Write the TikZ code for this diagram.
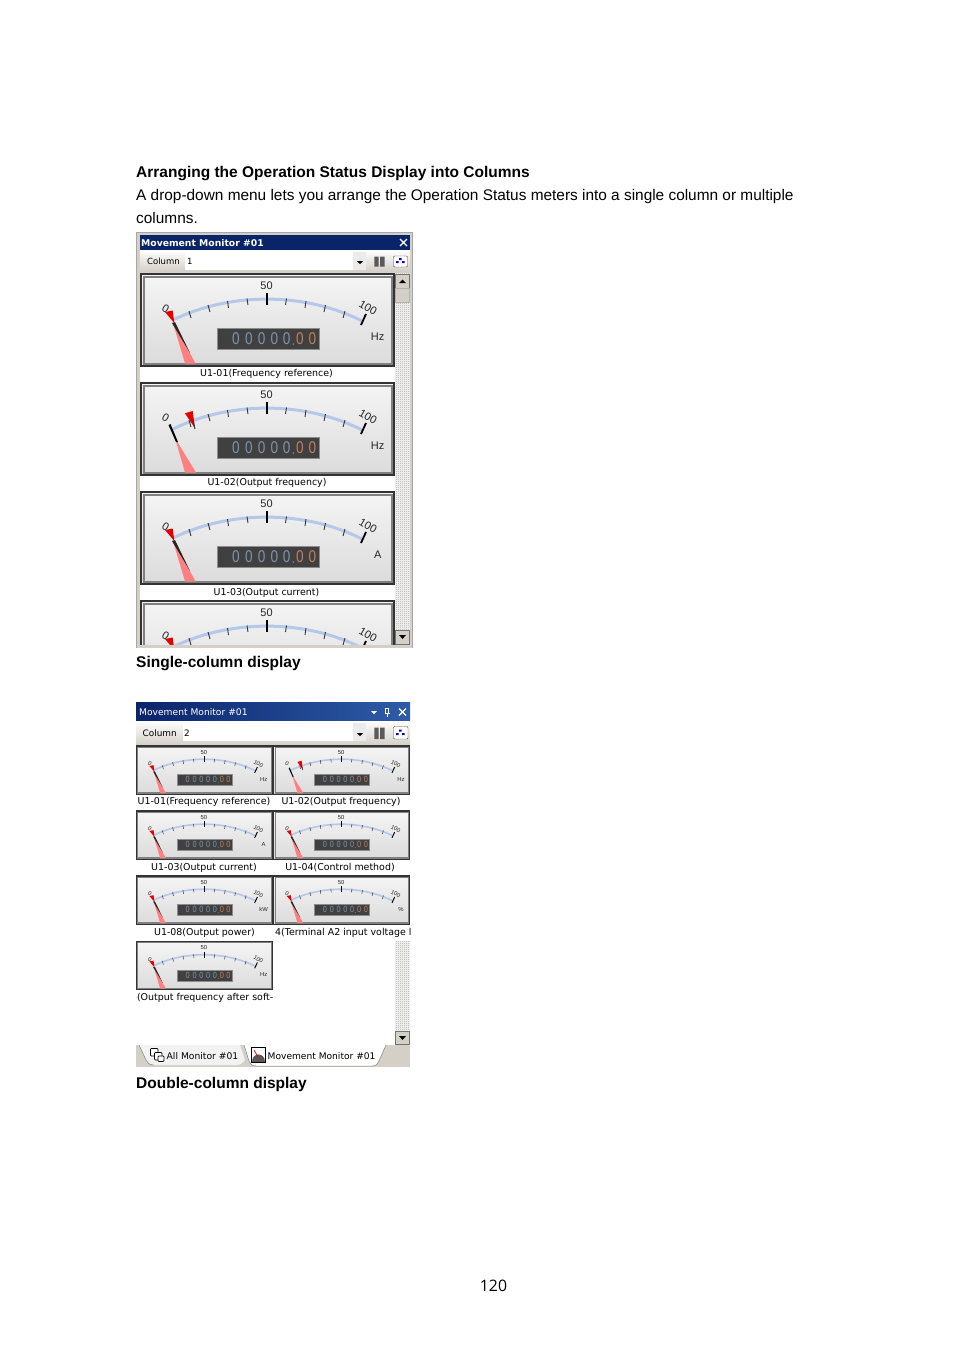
\documentclass[tikz,border=0pt]{standalone}
\usepackage{fontspec}
\setmainfont{Liberation Sans}
\newfontfamily\uifont{DejaVu Sans}
\newfontfamily\pagefont{Open Sans}
\usetikzlibrary{patterns}
\pgfdeclarepatternformonly{fineck}{\pgfqpoint{0pt}{0pt}}{\pgfqpoint{2pt}{2pt}}{\pgfqpoint{2pt}{2pt}}{%
  \pgfpathrectangle{\pgfqpoint{0pt}{0pt}}{\pgfqpoint{1pt}{1pt}}%
  \pgfpathrectangle{\pgfqpoint{1pt}{1pt}}{\pgfqpoint{1pt}{1pt}}%
  \pgfusepath{fill}}
\newif\ifgaugepartial
\definecolor{navy}{HTML}{0A246A}
\definecolor{barblue}{HTML}{2E5CA8}
\definecolor{winface}{HTML}{D4D0C8}
\definecolor{dither}{HTML}{F8F8F6}
\definecolor{arcblue}{HTML}{B4C8EA}
\definecolor{lcdbg}{HTML}{404040}
\definecolor{lcdblue}{HTML}{7F93AE}
\definecolor{lcdorange}{HTML}{C47F5C}
\definecolor{pinkneedle}{HTML}{FF8080}
\newcommand{\ditherbar}[4]{\fill[dither] (#1,#2) rectangle (#3,#4);
  \fill[pattern=fineck,pattern color=black!35] (#1,#2) rectangle (#3,#4);}
\tikzset{
  x=1pt,y=-1pt,
  headtext/.style={anchor=base west,inner sep=0pt,font=\fontsize{15.5}{18}\bfseries},
  bodytext/.style={anchor=base west,inner sep=0pt,font=\fontsize{15.4}{18}\selectfont},
  ui/.style={inner sep=0pt,font=\uifont\fontsize{9.45}{11}\selectfont},
  titletext/.style={anchor=west,inner sep=0pt,text=white},
  mnum/.style={inner sep=0pt,font=\fontsize{11}{13}\selectfont,text=black!85},
  lcddigit/.style={inner sep=0pt,font=\fontsize{17}{19}\selectfont},
  btn/.style={draw=black!55,fill=winface},
}
% #1 x, #2 y, #3 xscale, #4 yscale, #5 unit, #6 needle position (0 or 1)
\newcommand{\gauge}[6]{%
\begin{scope}[shift={(#1,#2)},xscale=#3,yscale=#4,transform shape]
  \path[top color=black!4,bottom color=black!14] (1,1) rectangle (254,93);
  \draw[black!50,line width=2pt*#3] (3.5,3.5) rectangle (251.5,90.5);
  \draw[black!80,line width=2.2pt*#3] (1,1) rectangle (254,93);
  \draw[arcblue,line width=3pt*#3] (33,47) .. controls (90,19) and (165,19) .. (222,48);
  \foreach \tx/\ty/\bx/\by in {49/38/51/45, 68/32/70/39, 87.5/28/88.5/35, 107/25.5/108/32, 146.5/25.5/145.5/32, 166/28/165/35, 185.5/32/184/39, 205/38/203/45}
    \draw[black!80,line width=.9pt*#3] (\tx,\ty) -- (\bx,\by);
  \draw[black,line width=1.3pt*#3] (127,20) -- (127,32);
  \draw[black,line width=1.8pt*#3] (226,41) -- (221,52);
  \node[mnum,rotate=-30] at (25.7,35.3) {0};
  \node[mnum] at (126.5,13) {50};
  \node[mnum,rotate=-30] at (228,35) {100};
  \ifgaugepartial\else
  \if\relax\detokenize{#5}\relax\else\node[mnum] at (237.7,64) {#5};\fi
  \fill[lcdbg] (77,55) rectangle (179,76);
  \draw[black!45,line width=.7pt*#3] (77,55) rectangle (179,76);
  \foreach \dx in {96,109,121.7,134.3,146.7}
    \node[lcddigit,text=lcdblue,xscale=.8] at (\dx,65.5) {0};
  \fill[lcdblue] (153.3,71) circle (.8);
  \foreach \dx in {160,172.3}
    \node[lcddigit,text=lcdorange,xscale=.8] at (\dx,65.5) {0};
  \fi
  \ifnum#6=0
    \fill[pinkneedle] (33,50) -- (45,90.5) -- (55.7,90.5) -- cycle;
    \fill[black!85] (32,50) -- (35,49) -- (50,80) -- cycle;
    \fill[red!90!black] (25,39) -- (32.7,37.5) -- (34.3,50) -- cycle;
  \else
    \fill[pinkneedle] (35,56) -- (45,90.5) -- (56,90.5) -- cycle;
    \fill[black] (28.5,43) -- (30.5,42) -- (38,60) -- (36,60) -- cycle;
    \fill[red!90!black] (45,31.3) -- (52.7,29) -- (55,46.3) -- cycle;
    \draw[black!80,line width=1pt*#3] (53,39) -- (55,47);
  \fi
\end{scope}}
\begin{document}
\begin{tikzpicture}
\useasboundingbox[fill=white] (0,0) rectangle (954,1350);
\node[headtext] (head) at (136,177) {Arranging the Operation Status Display into Columns};
\node[bodytext] (para1) at (136,200) {A drop-down menu lets you arrange the Operation Status meters into a single column or multiple};
\node[bodytext] (para2) at (136,223) {columns.};
% ---- first window
\fill[winface] (136.5,232) rectangle (412.5,647.5);
\draw[black!35,line width=.7pt] (136.5,232) rectangle (412.5,647.5);
\fill[navy] (140,235) rectangle (410,250);
\node[titletext,font=\uifont\bfseries\fontsize{9.25}{11}\selectfont] (t1) at (141,242.7) {Movement Monitor \#01};
\draw[white,line width=1.3pt] (400,239) -- (407,246) (407,239) -- (400,246);
\path[top color=white,bottom color=winface] (140,250) rectangle (410,271);
\fill[white] (185,252) rectangle (366,270);
\node[ui,anchor=west,font=\uifont\fontsize{8.5}{10}\selectfont] (c1) at (147,261.5) {Column};
\node[ui,anchor=west,font=\uifont\fontsize{8.5}{10}\selectfont] (v1) at (187,261.5) {1};
\fill[black!8] (353,252) rectangle (366,270);
\fill[black] (357,261) -- (363,261) -- (360,264) -- cycle;
\fill[black!65] (374.3,256.7) rectangle (378.7,266.7) (380,256.7) rectangle (384.7,266.7);
\draw[black!70,fill=white,rounded corners=1pt] (393.5,256) rectangle (407.5,267);
\fill[blue!80!black] (396,261) rectangle (398.5,263) (399,258) rectangle (401.5,260) (402,261) rectangle (404.5,263);
% scrollbar
\ditherbar{395}{273}{410}{645}
\path[btn] (395.5,274.5) rectangle (409.5,288);
\fill[black] (399,283) -- (406,283) -- (402.5,279.5) -- cycle;
\path[btn,draw=black!30] (395.5,288.5) rectangle (409.5,302.5);
\path[btn] (395.5,630.5) rectangle (409.5,644.5);
\fill[black] (399,635) -- (406,635) -- (402.5,639) -- cycle;
% list background
\fill[white] (140,273) rectangle (395,645);
\gauge{140}{273}{1}{1}{Hz}{0}
\node[ui] (l1) at (266.5,374) {U1-01(Frequency reference)};
\gauge{140}{382}{1}{1}{Hz}{1}
\node[ui] (l2) at (267,483) {U1-02(Output frequency)};
\gauge{140}{491}{1}{1}{A}{0}
\node[ui] (l3) at (266.5,592.5) {U1-03(Output current)};
\begin{scope}
  \clip (140,600) rectangle (395,645);
  \gaugepartialtrue
  \gauge{140}{600}{1}{1}{}{0}
  \gaugepartialfalse
\end{scope}
\draw[winface,line width=2.4pt] (137,646.3) -- (412,646.3);
\node[headtext] (cap1) at (136,667) {Single-column display};
% ---- second window
\shade[left color=navy,right color=barblue] (136,702) rectangle (410,721);
\node[titletext,font=\uifont\fontsize{9.15}{11}\selectfont] (t2) at (139,712.5) {Movement Monitor \#01};
\fill[white] (371,711) -- (377,711) -- (374,714) -- cycle;
\draw[white,line width=1pt] (385.5,708) rectangle (388.5,713) (384.5,713) -- (389.5,713) (387,713) -- (387,717);
\draw[white,line width=1.3pt] (399,708.5) -- (406,715.5) (406,708.5) -- (399,715.5);
\path[top color=white,bottom color=winface] (136,721) rectangle (410,745);
\fill[white] (183,722) rectangle (366,741);
\node[ui,anchor=west,font=\uifont\fontsize{8.9}{10}\selectfont] (c2) at (142.5,733) {Column};
\node[ui,anchor=west,font=\uifont\fontsize{8.9}{10}\selectfont] (v2) at (184,733) {2};
\fill[black!8] (353,723) rectangle (366,741);
\fill[black] (357,733) -- (363,733) -- (360,736) -- cycle;
\fill[black!65] (374.3,727.5) rectangle (378.7,739) (380,727.5) rectangle (384.7,739);
\draw[black!70,fill=white,rounded corners=1pt] (393.5,726.5) rectangle (408,739);
\fill[blue!80!black] (396,733) rectangle (398.5,735) (399,729.5) rectangle (401.5,731.5) (402,733) rectangle (404.5,735);
\fill[white] (136,745) rectangle (410,1045);
\ditherbar{395}{941}{410}{1045}
\path[btn] (395.5,1031.5) rectangle (409.5,1044.5);
\fill[black] (399,1036) -- (406,1036) -- (402.5,1040) -- cycle;
\gauge{136}{745.5}{.537}{.525}{Hz}{0}
\gauge{273.3}{745.5}{.537}{.525}{Hz}{1}
\node[ui] (s1) at (204,802) {U1-01(Frequency reference)};
\node[ui] (s2) at (341,802) {U1-02(Output frequency)};
\gauge{136}{810.5}{.537}{.525}{A}{0}
\gauge{273.3}{810.5}{.537}{.525}{}{0}
\node[ui] (s3) at (204,867.5) {U1-03(Output current)};
\node[ui] (s4) at (340,867.5) {U1-04(Control method)};
\gauge{136}{875.5}{.537}{.525}{kW}{0}
\gauge{273.3}{875.5}{.537}{.525}{\%}{0}
\node[ui] (s5) at (204.5,932.5) {U1-08(Output power)};
\begin{scope}
  \clip (273,925) rectangle (410,940);
  \node[ui,anchor=west] (s6) at (275,932.5) {4(Terminal A2 input voltage level)};
\end{scope}
\gauge{136}{941}{.537}{.525}{Hz}{0}
\begin{scope}
  \clip (136,990) rectangle (273,1005);
  \node[ui,anchor=east] (s7) at (273.5,997.5) {5(Output frequency after soft-};
\end{scope}
% tabs
\fill[winface] (136,1045) rectangle (410,1067);
\fill[white] (244,1045) -- (249,1061) .. controls (250,1064) and (252,1066) .. (256,1066) -- (372,1066) .. controls (376,1066) and (378,1064) .. (379,1061) -- (386,1045) -- cycle;
\draw[black!50,line width=.5pt] (244,1045) -- (249,1061) .. controls (250,1064) and (252,1066) .. (256,1066) -- (372,1066) .. controls (376,1066) and (378,1064) .. (379,1061) -- (386,1045);
\fill[black!5] (139,1045) -- (146,1060) .. controls (147,1063) and (150,1065) .. (154,1065) -- (236,1065) .. controls (240,1065) and (243,1063) .. (245,1060) -- (240,1045) -- cycle;
\draw[black!50,line width=.5pt] (139,1045) -- (146,1060) .. controls (147,1063) and (150,1065) .. (154,1065);
\draw[black,line width=.7pt,fill=white,rounded corners=.8pt] (150.5,1048.5) rectangle (158,1056);
\draw[black,line width=.7pt,fill=white,rounded corners=.8pt] (154.5,1052.5) rectangle (162,1060);
\draw[black,line width=.7pt,fill=white,rounded corners=.8pt] (158,1056) rectangle (164,1061.5);
\node[ui,anchor=west,font=\uifont\fontsize{9.2}{11}\selectfont] (tab1) at (166.5,1056) {All Monitor \#01};
\draw[black,line width=.9pt,fill=white] (251.5,1047.5) rectangle (265.5,1062);
\fill[black!65] (252,1062) .. controls (252,1052) and (265,1052) .. (265,1062) -- cycle;
\draw[red,line width=.8pt] (254,1050) -- (258,1057);
\node[ui,anchor=west,font=\uifont\fontsize{9.1}{11}\selectfont] (tab2) at (267.5,1056) {Movement Monitor \#01};
\node[headtext] (cap2) at (136,1088) {Double-column display};
\node[inner sep=0pt,anchor=base,font=\pagefont\fontsize{15.8}{18}\selectfont] (page) at (493.5,1291) {120};
\end{tikzpicture}
\end{document}
